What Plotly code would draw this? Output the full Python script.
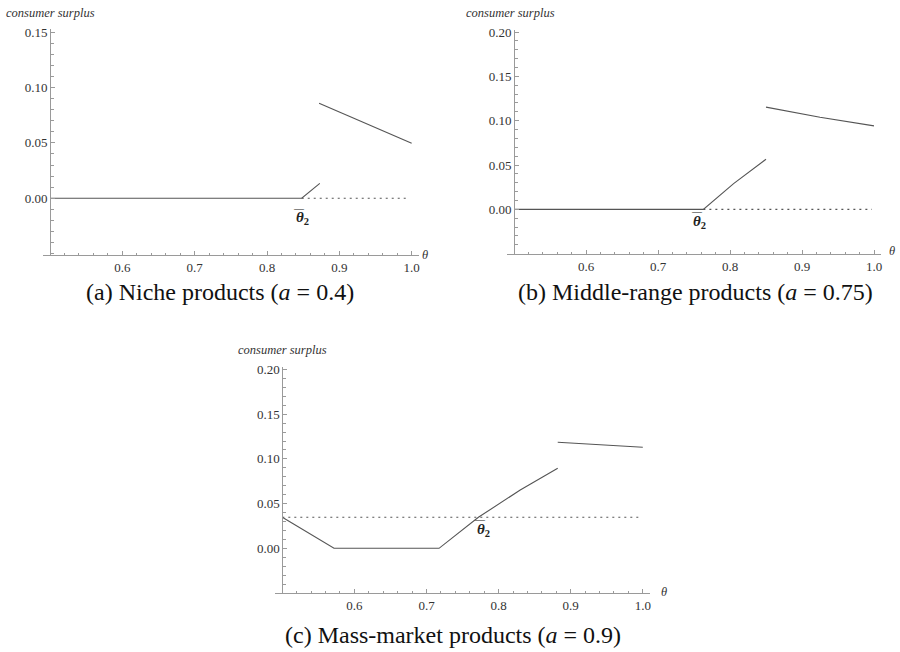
import plotly.graph_objects as go

W, H = 900, 652

# ---- data ----
a_main_x = [0.5, 0.848, 0.873]
a_main_y = [0.0, 0.0, 0.0135]
a_upper_x = [0.872, 0.936, 1.0]
a_upper_y = [0.0857, 0.0676, 0.0496]
a_dot_x = [0.848, 0.995]
a_dot_y = [0.0, 0.0]

b_main_x = [0.5, 0.763, 0.805, 0.85]
b_main_y = [0.0, 0.0, 0.029, 0.0565]
b_upper_x = [0.85, 0.925, 1.0]
b_upper_y = [0.1153, 0.104, 0.0942]
b_dot_x = [0.763, 0.997]
b_dot_y = [0.0, 0.0]

c_main_x = [0.5, 0.5717, 0.7174, 0.772, 0.83, 0.882]
c_main_y = [0.0347, 0.0, 0.0, 0.0347, 0.0652, 0.0895]
c_upper_x = [0.882, 1.0]
c_upper_y = [0.1186, 0.1130]
c_dot_x = [0.5, 0.995]
c_dot_y = [0.0347, 0.0347]

x_ticks = [0.6, 0.7, 0.8, 0.9, 1.0]
a_yticks = [0.0, 0.05, 0.10, 0.15]
bc_yticks = [0.0, 0.05, 0.10, 0.15, 0.20]

captions = ["(a) Niche products (<i>a</i> = 0.4)",
            "(b) Middle-range products (<i>a</i> = 0.75)",
            "(c) Mass-market products (<i>a</i> = 0.9)"]

FONT = "Liberation Serif, Times New Roman, serif"
LINE = "#555555"
AXIS = "#9a9a9a"

# pixel boxes of each panel: (left, right, top, bottom) and axis ranges
panels = [
    dict(box=(42.8, 418.9, 29.1, 255.0), xr=[0.49, 1.01], yr=[-0.0512, 0.1527], yt=a_yticks, y0px=50.0),
    dict(box=(506.8, 881.2, 29.7, 254.0), xr=[0.49, 1.01], yr=[-0.0504, 0.2027], yt=bc_yticks, y0px=514.0),
    dict(box=(275.1, 650.0, 366.8, 593.3), xr=[0.49, 1.01], yr=[-0.0503, 0.2030], yt=bc_yticks, y0px=282.3),
]
series = [
    (a_main_x, a_main_y, a_upper_x, a_upper_y, a_dot_x, a_dot_y),
    (b_main_x, b_main_y, b_upper_x, b_upper_y, b_dot_x, b_dot_y),
    (c_main_x, c_main_y, c_upper_x, c_upper_y, c_dot_x, c_dot_y),
]
theta_bar_pos = [(0.849, -0.0178), (0.758, -0.014), (0.779, 0.0205)]
cs_label_px = [(50, 13), (510, 13), (282.5, 350)]
theta_px = [(425, 255), (892, 251), (664, 592)]
caption_px = [(220, 292), (695, 292), (453, 635)]

fig = go.Figure()
layout = dict(width=W, height=H, margin=dict(l=0, r=0, t=0, b=0, pad=0, autoexpand=False),
              paper_bgcolor="white", plot_bgcolor="white", showlegend=False,
              font=dict(family=FONT, size=12, color="#333333"))
annotations = []

for i, (p, s) in enumerate(zip(panels, series)):
    n = "" if i == 0 else str(i + 1)
    xa, ya = "x" + n, "y" + n
    l, r, t, b = p["box"]
    mx, my, ux, uy, dx, dy = s
    for xs, ys, dash in [(mx, my, "solid"), (ux, uy, "solid"), (dx, dy, "2px,4px")]:
        fig.add_trace(go.Scatter(x=xs, y=ys, mode="lines", xaxis=xa, yaxis=ya,
                                 line=dict(color=LINE, width=1.1, dash=dash),
                                 hoverinfo="skip"))
    xd = [l / W, r / W]
    yd = [1 - b / H, 1 - t / H]
    layout["xaxis" + n] = dict(domain=xd, range=p["xr"], anchor=ya, automargin=False,
                               showgrid=False, zeroline=False, showline=True,
                               linecolor=AXIS, linewidth=1,
                               tickvals=x_ticks, ticktext=[f"{v:.1f}" for v in x_ticks],
                               ticks="inside", ticklen=4, tickcolor=AXIS,
                               minor=dict(tick0=0.5, dtick=0.02, ticks="inside",
                                          ticklen=2.5, tickcolor=AXIS),
                               tickfont=dict(family=FONT, size=13, color="#333333"))
    ypos = p["y0px"] / W
    layout["yaxis" + n] = dict(domain=yd, range=p["yr"], anchor="free", position=ypos,
                               automargin=False,
                               showgrid=False, zeroline=False, showline=True,
                               linecolor=AXIS, linewidth=1,
                               tickvals=p["yt"], ticktext=[f"{v:.2f}" for v in p["yt"]],
                               ticks="inside", ticklen=4, tickcolor=AXIS,
                               minor=dict(tick0=0.0, dtick=0.01, ticks="inside",
                                          ticklen=2.5, tickcolor=AXIS),
                               tickfont=dict(family=FONT, size=13, color="#333333"))
    tx, ty = theta_bar_pos[i]
    annotations.append(dict(x=tx, y=ty, xref=xa, yref=ya, showarrow=False,
                            text="<b><i>θ</i><sub>2</sub></b>",
                            font=dict(family=FONT, size=15, color="#222222")))
    annotations.append(dict(x=tx, y=ty, xref=xa, yref=ya, showarrow=False,
                            xshift=-3, yshift=10,
                            text="—",
                            font=dict(family=FONT, size=10, color="#222222")))
    cx, cy = cs_label_px[i]
    annotations.append(dict(x=cx / W, y=1 - cy / H, xref="paper", yref="paper",
                            showarrow=False, text="<i>consumer surplus</i>",
                            xanchor="center", yanchor="middle",
                            font=dict(family=FONT, size=12.5, color="#333333")))
    thx, thy = theta_px[i]
    annotations.append(dict(x=thx / W, y=1 - thy / H, xref="paper", yref="paper",
                            showarrow=False, text="<i>θ</i>",
                            xanchor="center", yanchor="middle",
                            font=dict(family=FONT, size=12.5, color="#333333")))
    kx, ky = caption_px[i]
    annotations.append(dict(x=kx / W, y=1 - ky / H, xref="paper", yref="paper",
                            showarrow=False, text=captions[i],
                            xanchor="center", yanchor="middle",
                            font=dict(family=FONT, size=24, color="#111111")))

layout["annotations"] = annotations
fig.update_layout(**layout)
fig.write_html("out.html", config={"displayModeBar": False},
               post_script="document.body.style.margin='0';document.body.style.padding='0';")
